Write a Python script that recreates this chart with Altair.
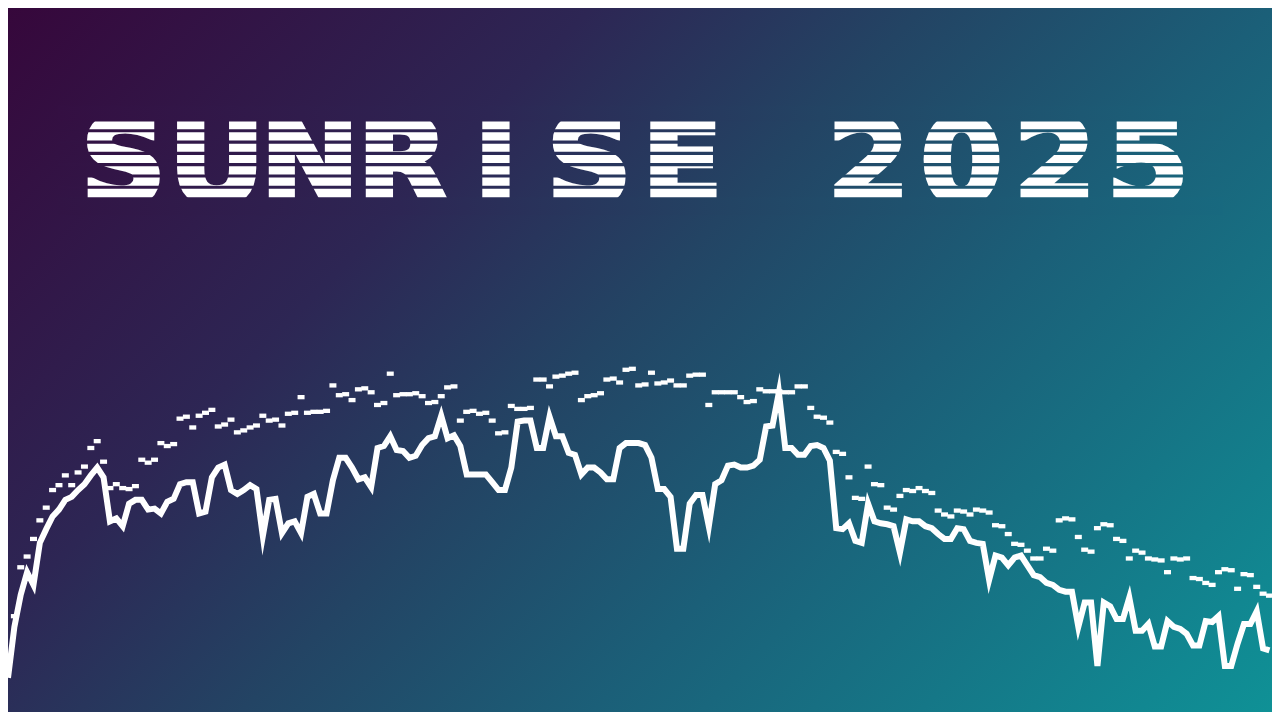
import altair as alt
import pandas as pd

TITLE = "SUNRISE 2025"

# daily series (height units), one value per day
LINE = [35, 87, 120, 143, 130, 173, 187, 200, 207, 217, 220, 227, 233, 242, 250, 240, 195, 198, 190, 213,
        217, 217, 207, 208, 203, 215, 218, 233, 235, 235, 203, 205, 240, 250, 253, 227, 223, 227, 232, 228,
        180, 217, 218, 183, 193, 195, 183, 220, 223, 203, 203, 237, 260, 260, 250, 238, 240, 230, 270, 272,
        282, 268, 267, 260, 262, 273, 280, 282, 303, 280, 283, 272, 243, 243, 243, 243, 235, 227, 227, 250,
        297, 298, 298, 270, 270, 302, 282, 282, 265, 263, 243, 250, 250, 245, 238, 238, 270, 275, 275, 275,
        273, 260, 228, 228, 220, 167, 167, 213, 222, 222, 190, 233, 237, 252, 253, 250, 250, 252, 258, 292,
        293, 327, 270, 270, 263, 263, 272, 273, 270, 257, 188, 187, 193, 175, 173, 213, 195, 193, 192, 190,
        163, 197, 195, 195, 190, 188, 182, 177, 177, 188, 187, 175, 173, 172, 135, 160, 158, 150, 158, 160,
        150, 140, 138, 132, 130, 125, 123, 123, 87, 112, 112, 47, 112, 108, 95, 95, 117, 83, 83, 90,
        67, 67, 93, 87, 85, 80, 68, 68, 93, 92, 98, 47, 47, 70, 90, 90, 103, 65, 63]

HIGH = [None, 98, 148, 159, 177, 196, 209, 227, 232, 242, 232, 245, 251, 270, 277, 256, 229, 233, 229, 228,
        231, 258, 255, 258, 275, 272, 274, 300, 302, 291, 303, 306, 309, 292, 294, 299, 286, 288, 291, 293,
        303, 298, 299, 293, 305, 306, 322, 306, 307, 307, 308, 334, 324, 325, 319, 330, 331, 327, 314, 316,
        346, 324, 325, 325, 326, 323, 316, 317, 323, 332, 333, 298, 307, 308, 305, 306, 298, 285, 286, 313,
        310, 310, 311, 340, 340, 333, 343, 344, 346, 347, 319, 323, 324, 326, 340, 341, 337, 350, 351, 334,
        335, 347, 336, 337, 339, 334, 334, 344, 345, 345, 314, 327, 327, 327, 327, 322, 317, 318, 330, 328,
        328, 328, 327, 327, 333, 333, 311, 302, 301, 296, 266, 264, 240, 219, 218, 251, 233, 232, 209, 207,
        221, 227, 226, 229, 226, 224, 206, 202, 200, 206, 205, 202, 207, 206, 204, 191, 190, 182, 172, 171,
        165, 157, 157, 167, 165, 196, 198, 197, 179, 166, 164, 188, 192, 191, 177, 175, 157, 165, 163, 157,
        156, 155, 143, 157, 156, 157, 137, 136, 132, 130, 143, 146, 145, 126, 141, 140, 128, 121, 119]

W, H = 1264, 704
SX, SY = W / 1280, H / 720

# background gradient (style)
STOPS = [(0.0, "#36073b"), (0.3, "#2d2654"), (0.47, "#234464"), (0.65, "#1b5f78"),
         (0.93, "#118791"), (1.0, "#0f9196")]
GX, GY = 1.193, 0.642


def hex2rgb(h):
    return tuple(int(h[i:i + 2], 16) for i in (1, 3, 5))


def color_at(t):
    t = min(max(t, 0.0), 1.0)
    for (o0, c0), (o1, c1) in zip(STOPS, STOPS[1:]):
        if t <= o1:
            f = (t - o0) / (o1 - o0) if o1 > o0 else 0
            a, b = hex2rgb(c0), hex2rgb(c1)
            return "#%02x%02x%02x" % tuple(round(a[i] + (b[i] - a[i]) * f) for i in range(3))
    return STOPS[-1][1]


def grad_t(u, v):
    return (GX * u + GY * v) / (GX ** 2 + GY ** 2)


bg_grad = {"gradient": "linear", "x1": 0, "y1": 0, "x2": GX, "y2": GY,
           "stops": [{"offset": o, "color": c} for o, c in STOPS]}

one = pd.DataFrame({"k": [0]})
bg = alt.Chart(one).mark_rect(color=bg_grad).encode(
    x=alt.value(0), x2=alt.value(W), y=alt.value(0), y2=alt.value(H))

# title, one glyph per monospaced cell, heavy strokes
chars = pd.DataFrame({"pos": list(range(len(TITLE))), "ch": list(TITLE)})
x0 = 117 * SX
pitch = 94.3 * SX
cap_top, base = 116 * SY, 193.5 * SY
FS = 118
SW = 5
cap_h = 0.729 * FS + SW
title = alt.Chart(chars).mark_text(
    font="DejaVu Sans", fontWeight="bold", fontSize=FS, color="white",
    stroke="white", strokeWidth=SW, align="center", baseline="alphabetic"
).encode(
    x=alt.X("pos:Q", scale=alt.Scale(domain=[0, len(TITLE) - 1],
                                     range=[x0, x0 + pitch * (len(TITLE) - 1)]), axis=None),
    y=alt.value(base - SW / 2 + (cap_h - (base - cap_top)) / 2),
    text="ch:N",
)


def band(top, bot, xa=50, xb=1215):
    """background-coloured band (matches the gradient) used to cut the title into bars"""
    v = (top + bot) / 2 / H
    ta, tb = grad_t(xa / W, v), grad_t(xb / W, v)
    st = [{"offset": 0, "color": color_at(ta)}]
    for o, c in STOPS:
        if ta < o < tb:
            st.append({"offset": (o - ta) / (tb - ta), "color": c})
    st.append({"offset": 1, "color": color_at(tb)})
    g = {"gradient": "linear", "x1": 0, "y1": 0, "x2": 1, "y2": 0, "stops": st}
    return alt.Chart(one).mark_rect(color=g).encode(
        x=alt.value(xa), x2=alt.value(xb), y=alt.value(top), y2=alt.value(bot))


bands = [band(cap_top - 16, cap_top), band(base, base + 18)]
for k in range(6):
    top = (124.0 + 11.55 * k) * SY
    bands.append(band(top, top + 3.2 * SY))

df = pd.DataFrame({"day": list(range(len(LINE))), "value": LINE})
dfh = pd.DataFrame({"day": [i for i, h in enumerate(HIGH) if h is not None],
                    "high": [h for h in HIGH if h is not None]})

xs = alt.Scale(domain=[0, 198.4], nice=False, zero=False)
ys = alt.Scale(domain=[0, 720], nice=False, zero=False)

ticks = alt.Chart(dfh).mark_tick(orient="horizontal", size=7, thickness=4.3, color="white", opacity=1).encode(
    x=alt.X("day:Q", scale=xs, axis=None),
    y=alt.Y("high:Q", scale=ys, axis=None),
)

line = alt.Chart(df).mark_line(color="white", strokeWidth=6, strokeJoin="miter", strokeMiterLimit=10).encode(
    x=alt.X("day:Q", scale=xs, axis=None),
    y=alt.Y("value:Q", scale=ys, axis=None),
)

chart = alt.layer(bg, title, *bands, ticks, line).resolve_scale(x="independent").properties(
    width=W, height=H, padding=0, autosize="none", background="#1f3f60"
).configure_view(stroke=None)

chart.save("out.html", embed_options={"renderer": "svg", "actions": False})
